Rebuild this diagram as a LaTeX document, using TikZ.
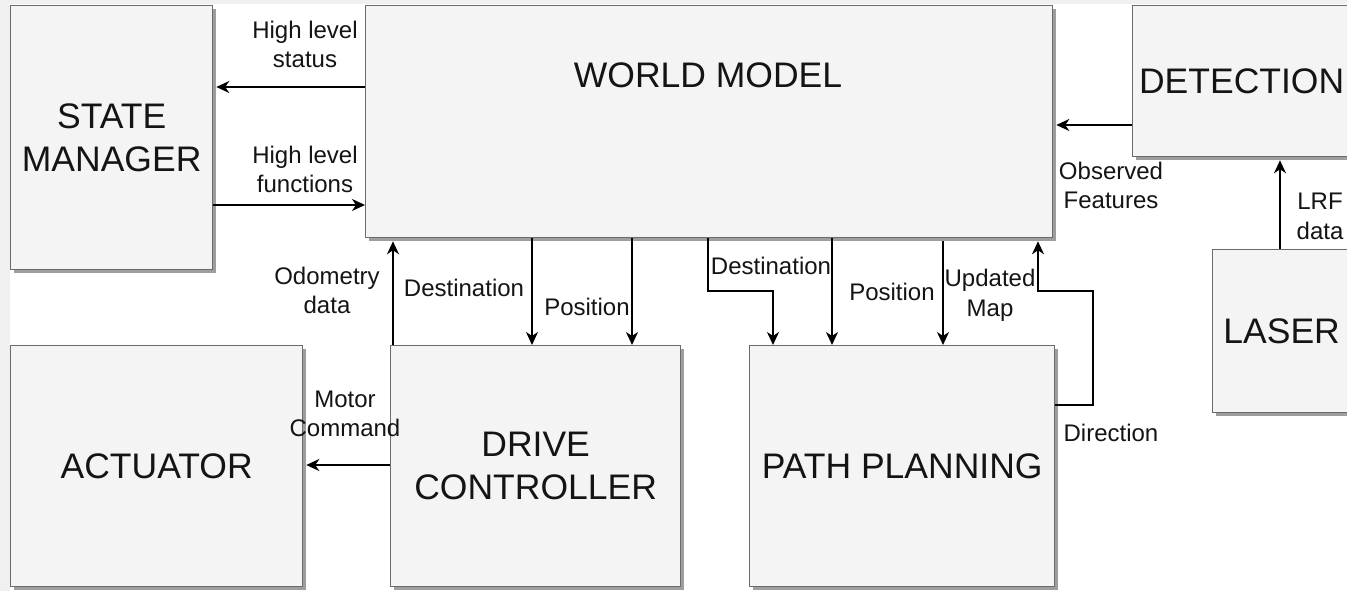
\documentclass[tikz,border=0pt]{standalone}
\usepackage{fontspec}
\setmainfont{Liberation Sans}
\usetikzlibrary{arrows.meta,shadows}
\definecolor{boxfill}{HTML}{F4F4F4}
\definecolor{boxline}{HTML}{6B6B6B}
\definecolor{page}{HTML}{F0F0F0}
\definecolor{ink}{HTML}{141414}

\begin{document}
\begin{tikzpicture}[x=1pt,y=-1pt,
  block/.style={draw=boxline, line width=1.3pt, fill=boxfill, inner sep=0pt,
    anchor=north west,
    drop shadow={shadow xshift=3pt, shadow yshift=-3pt, fill=black!38, opacity=1},
    text=ink, align=center, font=\fontsize{35.5}{43}\selectfont},
  bigtext/.style={text=ink, inner sep=0pt, font=\fontsize{35.5}{43}\selectfont},
  lbl/.style={text=ink, align=center, inner sep=0pt, font=\fontsize{24}{29.5}\selectfont},
  flow/.style={draw=black, line width=1.5pt, -{Stealth[length=13pt,width=12pt,inset=4pt]}},
]
\useasboundingbox (0,0) rectangle (1347,591);
\clip (0,0) rectangle (1347,591);
\fill[page] (0,0) rectangle (1347,591);
\fill[white] (10,4) rectangle (1347,591);

% blocks
\node[block, minimum width=202pt, minimum height=264pt] (sm) at (10,5) {STATE\\MANAGER};
\node[block, minimum width=687pt, minimum height=232pt] (wm) at (365,5) {};
\node[bigtext] (wmt) at (708,75) {WORLD MODEL};
\node[block, minimum width=218pt, minimum height=151pt] (det) at (1132,5) {DETECTION};
\node[block, minimum width=138pt, minimum height=163pt] (laser) at (1212,249) {LASER};
\node[block, minimum width=292pt, minimum height=241pt] (act) at (10,345) {ACTUATOR};
\node[block, minimum width=290pt, minimum height=241pt] (dc) at (390,345) {DRIVE\\CONTROLLER};
\node[block, minimum width=305pt, minimum height=241pt] (pp) at (749,345) {PATH PLANNING};

% routing levels and columns
\coordinate (yhls) at (0,87);
\coordinate (yhlf) at (0,205);
\coordinate (yobs) at (0,125);
\coordinate (ymot) at (0,465);
\coordinate (ydir) at (0,405);
\coordinate (xodo) at (393,0);
\coordinate (xdst) at (532,0);
\coordinate (xpos) at (632,0);
\coordinate (xpos2) at (832,0);
\coordinate (xupd) at (943,0);
\coordinate (xlrf) at (1280,0);
\coordinate (d2a) at (708,291);
\coordinate (d2b) at (773,291);
\coordinate (dra) at (1093,405);
\coordinate (drb) at (1093,291);
\coordinate (drc) at (1038,291);

% connectors
\draw[flow, shorten >=3pt] (wm.west |- yhls) -- (sm.east |- yhls);
\draw[flow] (sm.east |- yhlf) -- (wm.west |- yhlf);
\draw[flow, shorten >=3pt] (dc.north -| xodo) -- (wm.south -| xodo);
\draw[flow] (wm.south -| xdst) -- (dc.north -| xdst);
\draw[flow] (wm.south -| xpos) -- (dc.north -| xpos);
\draw[flow] (wm.south -| d2a) -- (d2a) -- (d2b) -- (pp.north -| d2b);
\draw[flow] (wm.south -| xpos2) -- (pp.north -| xpos2);
\draw[flow, shorten <=3pt] (wm.south -| xupd) -- (pp.north -| xupd);
\draw[flow, shorten >=3pt] (pp.east |- ydir) -- (dra) -- (drb) -- (drc) -- (wm.south -| drc);
\draw[flow, shorten >=3pt] (det.west |- yobs) -- (wm.east |- yobs);
\draw[flow, shorten >=3pt] (laser.north -| xlrf) -- (det.south -| xlrf);
\draw[flow, shorten >=3pt] (dc.west |- ymot) -- (act.east |- ymot);

% connector labels
\node[lbl] (l-hls) at (305,44.5) {High level\\status};
\node[lbl] (l-hlf) at (305,169.5) {High level\\functions};
\node[lbl] (l-odo) at (327,290.5) {Odometry\\data};
\node[lbl] (l-dst1) at (464,288) {Destination};
\node[lbl] (l-pos1) at (587,307) {Position};
\node[lbl] (l-dst2) at (771,266) {Destination};
\node[lbl] (l-pos2) at (892,292) {Position};
\node[lbl] (l-upd) at (990,295.5) {Updated\\Map};
\node[lbl] (l-dir) at (1111,433) {Direction};
\node[lbl] (l-obs) at (1111,185.5) {Observed\\Features};
\node[lbl] (l-lrf) at (1320,216.5) {LRF\\data};
\node[lbl] (l-mot) at (345,414) {Motor\\Command};
\end{tikzpicture}
\end{document}
